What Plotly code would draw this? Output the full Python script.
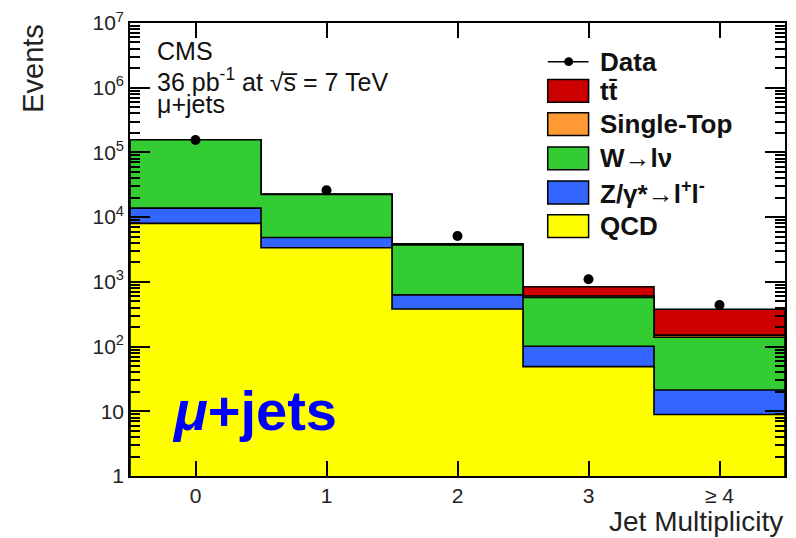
import numpy as np
import plotly.graph_objects as go

# Jet-multiplicity bins
bin_labels = ["0", "1", "2", "3", "\u2265 4"]
bin_centers = [0, 1, 2, 3, 4]

# Expected events per process (stacked bottom to top)
qcd = [8000, 3360, 380, 49, 8.9]
zjets = [5800, 1490, 250, 52, 12.4]
wjets = [143000, 17640, 3090, 474, 118]
single_top = [30, 80, 50, 30, 11]
ttbar = [3, 30, 100, 235, 228]

# Observed events
data = [156000, 26000, 5100, 1100, 440]

# Process styling (name, colour), bottom to top
processes = [
    ("QCD", "#ffff00", qcd),
    ("Z/\u03b3*\u2192l<sup>+</sup>l<sup>-</sup>", "#3366ff", zjets),
    ("W\u2192l\u03bd", "#33cc33", wjets),
    ("Single-Top", "#ff9933", single_top),
    ("tt\u0304", "#cc0000", ttbar),
]

# Axis ranges
X_RANGE = [-0.5, 4.5]
Y_DECADES = [0, 7]

# Plot-area geometry in pixels
W_PX, H_PX = 796, 538
M_L, M_R, M_T, M_B = 130, 9, 19, 62
PW = W_PX - M_L - M_R
PH = H_PX - M_T - M_B


def px(x):
    return (x - M_L) / PW


def py(y):
    return (H_PX - M_B - y) / PH


FONT = "Liberation Sans, Arial, Helvetica, sans-serif"
FLOOR = 0.1  # below the visible log range

fig = go.Figure()

# Cumulative stack levels, drawn from the tallest down (each covers the one before)
cum = np.cumsum(np.array([p[2] for p in processes], dtype=float), axis=0)
edges = np.arange(len(bin_centers) + 1) - 0.5
for level in range(len(processes) - 1, -1, -1):
    heights = cum[level]
    xs = [float(edges[0])]
    ys = [FLOOR]
    for i, h in enumerate(heights):
        xs += [float(edges[i]), float(edges[i + 1])]
        ys += [float(h), float(h)]
    xs.append(float(edges[-1]))
    ys.append(FLOOR)
    fig.add_trace(go.Scatter(
        x=xs, y=ys, mode="lines", fill="toself",
        fillcolor=processes[level][1],
        line=dict(color="black", width=1.6),
        hoverinfo="skip", showlegend=False,
    ))

# Data points with statistical errors
fig.add_trace(go.Scatter(
    x=bin_centers, y=data, mode="markers",
    marker=dict(color="black", size=10),
    error_y=dict(type="data", array=np.sqrt(data), color="black", width=0, thickness=1.5),
    showlegend=False,
))

# Log-axis tick values
major_y = [10 ** k for k in range(Y_DECADES[0], Y_DECADES[1] + 1)]
major_y_text = ["1", "10"] + [f"10<sup>{k}</sup>" for k in range(2, Y_DECADES[1] + 1)]
minor_y = [m * 10 ** k for k in range(Y_DECADES[0], Y_DECADES[1]) for m in range(2, 10)]

fig.update_layout(
    width=W_PX, height=H_PX,
    margin=dict(l=M_L, r=M_R, t=M_T, b=M_B),
    paper_bgcolor="white", plot_bgcolor="white",
    font=dict(family=FONT, color="black"),
    showlegend=False,
    xaxis=dict(
        range=X_RANGE, tickmode="array", tickvals=bin_centers, ticktext=bin_labels,
        ticks="inside", ticklen=15, tickwidth=2, tickcolor="#000000",
        showline=True, linewidth=1.6, linecolor="black", mirror="ticks",
        showgrid=False, zeroline=False, layer="above traces",
        tickfont=dict(size=21, color="#222"),
    ),
    yaxis=dict(
        type="log", range=Y_DECADES, tickmode="array", tickvals=major_y, ticktext=major_y_text,
        ticks="inside", ticklen=20, tickwidth=2, tickcolor="#000000",
        showline=True, linewidth=1.6, linecolor="black", mirror="ticks",
        showgrid=False, zeroline=False, layer="above traces",
        tickfont=dict(size=21, color="#222"),
        minor=dict(tickmode="array", tickvals=minor_y, ticks="inside",
                   ticklen=10, tickwidth=1.5, tickcolor="#000000", showgrid=False),
    ),
)

annotations = []
shapes = []

# Axis titles
annotations.append(dict(
    text="Events", x=px(32), y=py(18), xref="paper", yref="paper",
    xanchor="center", yanchor="top", textangle=-90, showarrow=False,
    font=dict(size=29, color="#222"),
))
annotations.append(dict(
    text="Jet Multiplicity", x=px(787), y=py(522), xref="paper", yref="paper",
    xanchor="right", yanchor="middle", showarrow=False,
    font=dict(size=28, color="#222"),
))

# Header text
for txt, yc in [("CMS", 47), ("36 pb<sup>-1</sup> at \u221as\u0305 = 7 TeV", 77),
                ("\u03bc+jets", 101)]:
    annotations.append(dict(
        text=txt, x=px(155), y=py(yc), xref="paper", yref="paper",
        xanchor="left", yanchor="middle", showarrow=False,
        font=dict(size=25, color="#111"),
    ))

# Channel label
annotations.append(dict(
    text="<b><i>\u03bc</i>+jets</b>", x=px(255), y=py(410), xref="paper", yref="paper",
    xanchor="center", yanchor="middle", showarrow=False,
    font=dict(size=56, color="#0000ff"),
))

# Legend (drawn as boxes plus text)
BOX_X0, BOX_X1, TXT_X = 549, 590, 599
rows = [("Data", None, 58)] + [
    (name, col, yc) for (name, col, _), yc in zip(processes[::-1], [87.5, 121, 155.5, 190, 224])
]
for name, col, yc in rows:
    if col is None:
        shapes.append(dict(type="line", xref="paper", yref="paper",
                           x0=px(BOX_X0), x1=px(BOX_X1), y0=py(yc), y1=py(yc),
                           line=dict(color="black", width=1.5)))
        shapes.append(dict(type="circle", xref="paper", yref="paper",
                           x0=px(565.5), x1=px(574.5), y0=py(yc + 4.5), y1=py(yc - 4.5),
                           fillcolor="black", line=dict(color="black", width=0)))
    else:
        shapes.append(dict(type="rect", xref="paper", yref="paper",
                           x0=px(BOX_X0), x1=px(BOX_X1), y0=py(yc + 11.5), y1=py(yc - 11.5),
                           fillcolor=col, line=dict(color="black", width=1.5)))
    annotations.append(dict(
        text=f"<b>{name}</b>", x=px(TXT_X), y=py(yc), xref="paper", yref="paper",
        xanchor="left", yanchor="middle", showarrow=False,
        font=dict(size=26, color="#111"),
    ))

fig.update_layout(annotations=annotations, shapes=shapes)
fig.write_html("out.html")
